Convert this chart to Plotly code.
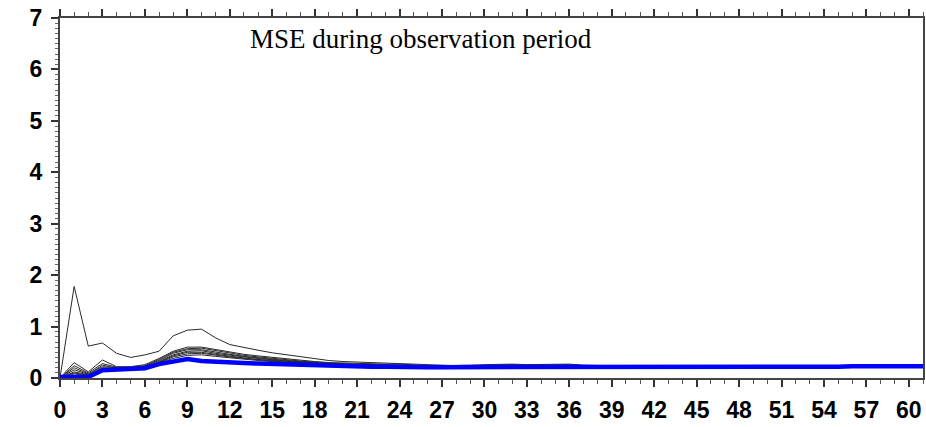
import plotly.graph_objects as go

# Forecast lead time (hours)
lead = list(range(62))

# Ensemble member MSE curves (thin black)
member_outlier = [0.00, 1.78, 0.62, 0.68, 0.48, 0.40, 0.45, 0.52, 0.82, 0.93, 0.95,
                  0.78, 0.65, 0.59, 0.54, 0.49, 0.45, 0.41, 0.37, 0.34, 0.32,
                  0.31, 0.30, 0.29, 0.27, 0.26, 0.25, 0.25, 0.24, 0.24, 0.24,
                  0.25, 0.25, 0.25, 0.24, 0.24, 0.24, 0.24, 0.23, 0.23, 0.23,
                  0.22, 0.22, 0.22, 0.22, 0.22, 0.22, 0.22, 0.22, 0.22, 0.22,
                  0.23, 0.23, 0.23, 0.23, 0.23, 0.23, 0.24, 0.24, 0.24, 0.24, 0.24]
member_a = [0.00, 0.30, 0.12, 0.35, 0.22, 0.22, 0.26, 0.38, 0.52, 0.60, 0.60,
            0.55, 0.50, 0.46, 0.43, 0.40, 0.37, 0.34, 0.32, 0.30, 0.29,
            0.28, 0.28, 0.27, 0.27, 0.25, 0.24, 0.24, 0.24, 0.25, 0.26,
            0.27, 0.27, 0.26, 0.26, 0.27, 0.27, 0.25, 0.24, 0.24, 0.23,
            0.23, 0.23, 0.22, 0.22, 0.22, 0.22, 0.22, 0.22, 0.22, 0.23,
            0.23, 0.23, 0.23, 0.23, 0.24, 0.24, 0.24, 0.25, 0.24, 0.24, 0.24]
member_b = [0.00, 0.24, 0.10, 0.28, 0.21, 0.21, 0.24, 0.36, 0.50, 0.57, 0.58,
            0.53, 0.48, 0.44, 0.41, 0.38, 0.35, 0.33, 0.31, 0.29, 0.28,
            0.27, 0.27, 0.26, 0.25, 0.24, 0.24, 0.23, 0.23, 0.24, 0.25,
            0.26, 0.26, 0.25, 0.25, 0.26, 0.26, 0.24, 0.23, 0.23, 0.23,
            0.22, 0.22, 0.22, 0.22, 0.21, 0.21, 0.22, 0.22, 0.22, 0.22,
            0.23, 0.23, 0.23, 0.23, 0.23, 0.24, 0.24, 0.24, 0.24, 0.24, 0.24]
member_c = [0.00, 0.20, 0.08, 0.22, 0.20, 0.20, 0.23, 0.34, 0.48, 0.55, 0.55,
            0.50, 0.46, 0.42, 0.39, 0.36, 0.34, 0.32, 0.30, 0.28, 0.27,
            0.26, 0.26, 0.25, 0.25, 0.24, 0.23, 0.23, 0.23, 0.23, 0.24,
            0.25, 0.25, 0.24, 0.24, 0.25, 0.25, 0.24, 0.23, 0.22, 0.22,
            0.22, 0.22, 0.21, 0.21, 0.21, 0.21, 0.21, 0.21, 0.22, 0.22,
            0.22, 0.22, 0.23, 0.23, 0.23, 0.23, 0.24, 0.24, 0.23, 0.23, 0.23]
member_d = [0.00, 0.16, 0.07, 0.25, 0.19, 0.20, 0.22, 0.32, 0.45, 0.52, 0.53,
            0.48, 0.44, 0.41, 0.38, 0.35, 0.33, 0.31, 0.29, 0.28, 0.27,
            0.26, 0.25, 0.25, 0.24, 0.23, 0.23, 0.23, 0.22, 0.23, 0.24,
            0.24, 0.24, 0.24, 0.24, 0.24, 0.24, 0.23, 0.22, 0.22, 0.22,
            0.21, 0.21, 0.21, 0.21, 0.21, 0.21, 0.21, 0.21, 0.21, 0.22,
            0.22, 0.22, 0.22, 0.22, 0.23, 0.23, 0.23, 0.24, 0.23, 0.23, 0.23]
member_e = [0.00, 0.12, 0.06, 0.18, 0.18, 0.19, 0.21, 0.31, 0.43, 0.50, 0.50,
            0.46, 0.42, 0.39, 0.36, 0.34, 0.32, 0.30, 0.28, 0.27, 0.26,
            0.25, 0.25, 0.24, 0.24, 0.23, 0.22, 0.22, 0.22, 0.22, 0.23,
            0.23, 0.23, 0.23, 0.23, 0.23, 0.23, 0.22, 0.22, 0.21, 0.21,
            0.21, 0.21, 0.21, 0.21, 0.21, 0.21, 0.21, 0.21, 0.21, 0.21,
            0.22, 0.22, 0.22, 0.22, 0.22, 0.23, 0.23, 0.23, 0.23, 0.23, 0.23]
member_f = [0.00, 0.10, 0.05, 0.20, 0.18, 0.18, 0.21, 0.30, 0.41, 0.47, 0.48,
            0.44, 0.41, 0.38, 0.35, 0.33, 0.31, 0.29, 0.28, 0.27, 0.26,
            0.25, 0.24, 0.24, 0.23, 0.22, 0.22, 0.22, 0.22, 0.22, 0.22,
            0.23, 0.23, 0.22, 0.22, 0.23, 0.23, 0.22, 0.21, 0.21, 0.21,
            0.21, 0.20, 0.20, 0.21, 0.21, 0.21, 0.21, 0.21, 0.21, 0.21,
            0.22, 0.22, 0.22, 0.22, 0.22, 0.22, 0.23, 0.23, 0.23, 0.23, 0.23]
member_g = [0.00, 0.08, 0.04, 0.17, 0.17, 0.18, 0.20, 0.29, 0.38, 0.44, 0.45,
            0.42, 0.39, 0.36, 0.34, 0.32, 0.30, 0.28, 0.27, 0.26, 0.25,
            0.24, 0.24, 0.23, 0.23, 0.22, 0.22, 0.21, 0.21, 0.21, 0.22,
            0.22, 0.22, 0.22, 0.22, 0.22, 0.22, 0.22, 0.21, 0.21, 0.21,
            0.20, 0.20, 0.20, 0.20, 0.21, 0.21, 0.21, 0.21, 0.21, 0.21,
            0.22, 0.22, 0.22, 0.22, 0.22, 0.22, 0.23, 0.23, 0.23, 0.23, 0.23]

# Ensemble mean MSE (thick blue)
ens_mean = [0.02, 0.02, 0.02, 0.15, 0.16, 0.16, 0.19, 0.27, 0.31, 0.37, 0.33,
            0.31, 0.30, 0.29, 0.28, 0.27, 0.26, 0.25, 0.25, 0.24, 0.23,
            0.23, 0.22, 0.22, 0.21, 0.21, 0.21, 0.21, 0.21, 0.21, 0.22,
            0.22, 0.22, 0.21, 0.21, 0.21, 0.22, 0.22, 0.21, 0.21, 0.21,
            0.20, 0.20, 0.20, 0.21, 0.21, 0.21, 0.21, 0.21, 0.21, 0.21,
            0.22, 0.22, 0.22, 0.22, 0.22, 0.23, 0.23, 0.24, 0.23, 0.23, 0.23]

members = [member_outlier, member_a, member_b, member_c, member_d,
           member_e, member_f, member_g]

title_text = "MSE during observation period"
x_ticks = list(range(0, 61, 3))
y_ticks = list(range(0, 8))

fig = go.Figure()
for m in members:
    fig.add_trace(go.Scatter(x=lead, y=m, mode="lines",
                             line=dict(color="#2a2a2a", width=1),
                             showlegend=False, hoverinfo="skip"))
fig.add_trace(go.Scatter(x=lead, y=ens_mean, mode="lines",
                         line=dict(color="#0000ff", width=4.5),
                         showlegend=False))
# invisible trace carrying the top tick axis
fig.add_trace(go.Scatter(x=[0, 61], y=[None, None], xaxis="x2",
                         mode="lines", showlegend=False, hoverinfo="skip"))

tick_font = dict(family="Liberation Sans", size=23, color="black", weight="bold")

x_common = dict(range=[0, 61], tickvals=x_ticks, ticks="outside",
                ticklen=7, tickwidth=1.5, tickcolor="#333",
                showline=True, linecolor="#444", linewidth=2,
                showgrid=False, zeroline=False, automargin=False,
                minor=dict(dtick=1, ticks="outside", ticklen=4,
                           tickwidth=1, tickcolor="#555", showgrid=False))

fig.update_layout(
    width=926, height=427,
    margin=dict(l=60, r=3, t=18, b=49, autoexpand=False),
    paper_bgcolor="white", plot_bgcolor="white",
    xaxis=dict(**x_common, tickfont=tick_font, ticklabelstandoff=3,
               ticklabeloverflow="allow"),
    xaxis2=dict(**x_common, overlaying="x", side="top", matches="x",
                showticklabels=False),
    yaxis=dict(range=[0, 7], tickvals=y_ticks, ticks="outside",
               ticklen=7, tickwidth=1.5, tickcolor="#333",
               showline=True, linecolor="#444", linewidth=2, mirror=True,
               showgrid=False, zeroline=False, tickfont=tick_font,
               ticklabelstandoff=4, automargin=False,
               minor=dict(dtick=0.1, ticks="outside", ticklen=3,
                          tickwidth=1, tickcolor="#666", showgrid=False)),
    annotations=[dict(x=25.5, y=6.6, xref="x", yref="y", text=title_text,
                      showarrow=False,
                      font=dict(family="Liberation Serif", size=27, color="black"))],
)

fig.write_html("out.html")
